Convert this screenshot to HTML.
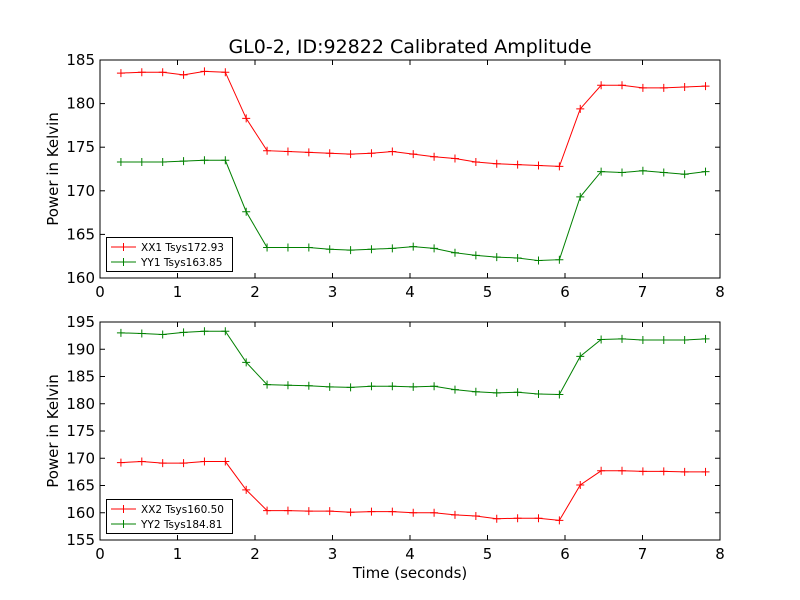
<!DOCTYPE html>
<html><head><meta charset="utf-8"><style>
body{margin:0;background:#fff;}
svg{display:block;font-family:"DejaVu Sans","Liberation Sans",sans-serif;}
</style></head><body>
<svg id="chart" width="800" height="600" viewBox="0 0 800 600">
<rect width="800" height="600" fill="#fff"/>
<text x="410" y="53" text-anchor="middle" font-size="19">GL0-2, ID:92822 Calibrated Amplitude</text>
<text x="410" y="578" text-anchor="middle" font-size="15">Time (seconds)</text>
</svg>
<script>
const xTicks = [0,1,2,3,4,5,6,7,8];
const times = [];
for (let i = 0; i < 29; i++) times.push(0.27 + i * 0.2694);
const xx1 = [183.5,183.6,183.6,183.3,183.7,183.6,178.3,174.6,174.5,174.4,174.3,174.2,174.3,174.5,174.2,173.9,173.7,173.3,173.1,173.0,172.9,172.8,179.4,182.1,182.1,181.8,181.8,181.9,182.0];
const yy1 = [173.3,173.3,173.3,173.4,173.5,173.5,167.6,163.5,163.5,163.5,163.3,163.2,163.3,163.4,163.6,163.4,162.9,162.6,162.4,162.3,162.0,162.1,169.3,172.2,172.1,172.3,172.1,171.9,172.2];
const xx2 = [169.2,169.4,169.1,169.1,169.4,169.4,164.2,160.4,160.4,160.3,160.3,160.1,160.2,160.2,160.0,160.0,159.6,159.4,158.9,159.0,159.0,158.6,165.1,167.7,167.7,167.6,167.6,167.5,167.5];
const yy2 = [193.0,192.9,192.7,193.1,193.3,193.3,187.6,183.5,183.4,183.3,183.1,183.0,183.2,183.2,183.1,183.2,182.6,182.2,182.0,182.1,181.8,181.7,188.7,191.8,191.9,191.7,191.7,191.7,191.9];
const topTicks = [160,165,170,175,180,185];
const botTicks = [155,160,165,170,175,180,185,190,195];
const topLegend = ["XX1 Tsys172.93","YY1 Tsys163.85"];
const botLegend = ["XX2 Tsys160.50","YY2 Tsys184.81"];

const svg = document.getElementById('chart');
const NS = 'http://www.w3.org/2000/svg';
function mk(tag, attrs, parent) {
  const e = document.createElementNS(NS, tag);
  for (const k in attrs) e.setAttribute(k, attrs[k]);
  (parent || svg).appendChild(e);
  return e;
}
const X0 = 100, X1 = 720;
const xs = v => X0 + (v - 0) / 8 * (X1 - X0);

function panel(name, top, bot, ymin, ymax, yTicks, series, legend) {
  const g = mk('g', {});
  
  
  const ys = v => bot - (v - ymin) / (ymax - ymin) * (bot - top);
  // ticks
  xTicks.forEach(t => {
    const x = xs(t);
    mk('line', {x1:x, x2:x, y1:bot, y2:bot-5, stroke:'#000'}, g);
    mk('line', {x1:x, x2:x, y1:top, y2:top+5, stroke:'#000'}, g);
    const tx = mk('text', {x:x, y:bot+19, 'text-anchor':'middle', 'font-size':15}, g);
    
    
    tx.textContent = t;
  });
  yTicks.forEach(t => {
    const y = ys(t);
    mk('line', {x1:X0, x2:X0+5, y1:y, y2:y, stroke:'#000'}, g);
    mk('line', {x1:X1, x2:X1-5, y1:y, y2:y, stroke:'#000'}, g);
    const tx = mk('text', {x:X0-5, y:y+5, 'text-anchor':'end', 'font-size':15}, g);
    
    
    tx.textContent = t;
  });
  const yt = mk('text', {x:0, y:0, 'text-anchor':'middle', 'font-size':15, transform:`translate(58,${(top+bot)/2}) rotate(-90)`}, g);
  
  
  yt.textContent = 'Power in Kelvin';
  series.forEach(s => {
    const pts = s.vals.map((v, i) => xs(times[i]) + ',' + ys(v)).join(' ');
    const pl = mk('polyline', {points:pts, fill:'none', stroke:s.color, 'stroke-width':1}, g);
    
    
    s.vals.forEach((v, i) => {
      const x = xs(times[i]), y = ys(v);
      const m = mk('path', {d:`M${x-4},${y}H${x+4}M${x},${y-4}V${y+4}`, stroke:s.color, 'stroke-width':1}, g);
      
      
    });
  });
  mk('rect', {x:X0, y:top, width:X1-X0, height:bot-top, fill:'none', stroke:'#000', 'stroke-width':1}, g);
  // legend
  const lg = mk('g', {}, g);
  
  
  const lt = bot - 41;
  mk('rect', {x:106.5, y:lt+0.5, width:126, height:34, fill:'#fff', stroke:'#000'}, lg);
  legend.forEach((lab, i) => {
    const y = lt + 10 + i * 15;
    const c = series[i].color;
    mk('line', {x1:111, x2:136, y1:y, y2:y, stroke:c}, lg);
    mk('path', {d:`M119.5,${y}H127.5M123.5,${y-4}V${y+4}`, stroke:c}, lg);
    const t = mk('text', {x:141, y:y+4, 'font-size':10.5}, lg);
    
    
    t.textContent = lab;
  });
}
panel('top-panel', 60, 278, 160, 185, topTicks,
  [{name:'xx1', vals:xx1, color:'#ff0000'}, {name:'yy1', vals:yy1, color:'#008000'}], topLegend);
panel('bottom-panel', 322, 540, 155, 195, botTicks,
  [{name:'xx2', vals:xx2, color:'#ff0000'}, {name:'yy2', vals:yy2, color:'#008000'}], botLegend);
</script>
</body></html>
